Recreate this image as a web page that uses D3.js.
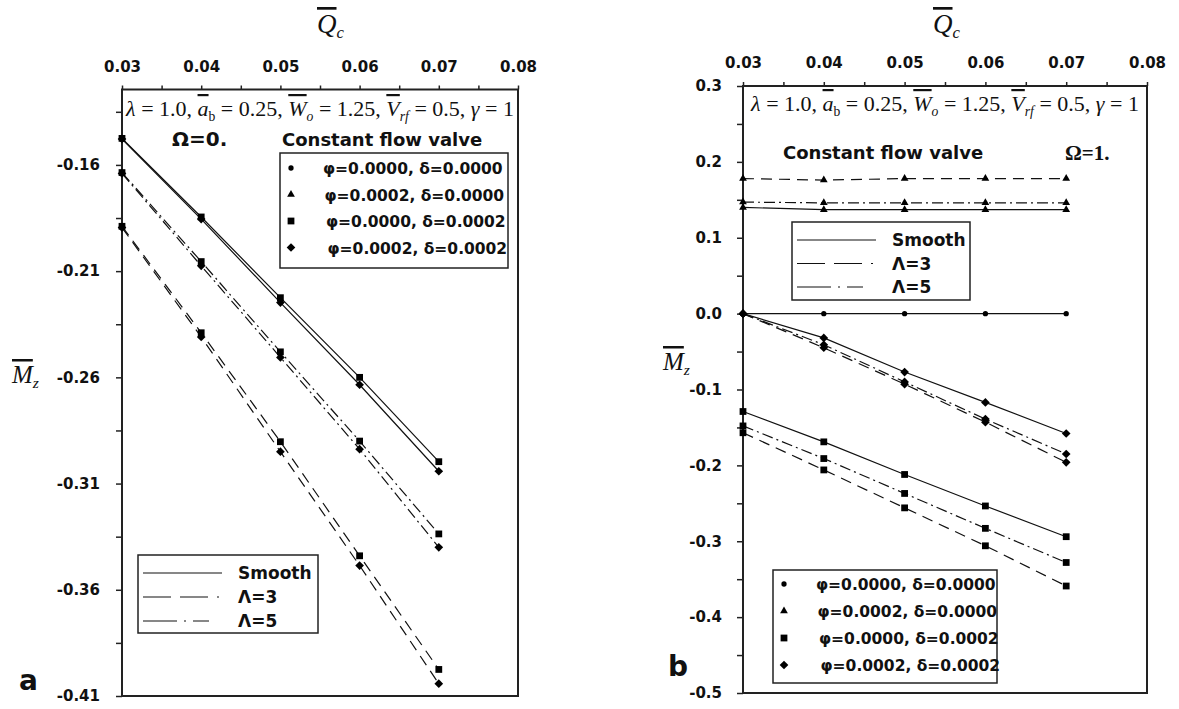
<!DOCTYPE html>
<html>
<head>
<meta charset="utf-8">
<title>Mz versus Qc - constant flow valve</title>
<style>
  body { margin: 0; background: #fff; }
  svg { display: block; }
  .tick text { font-family: "DejaVu Sans", sans-serif; font-weight: bold; font-size: 15px; fill: #111; }
  .tick line { stroke: #222; stroke-width: 1.5; }
  .domain { stroke: #222; stroke-width: 2; }
  .lbl { font-family: "DejaVu Sans", sans-serif; font-weight: bold; fill: #111; }
  .serif { font-family: "Liberation Serif", serif; fill: #111; }
</style>
</head>
<body>
<div id="chart"></div>
<script src="https://d3js.org/d3.v7.min.js"></script>
<script>
(function(d3) {
  'use strict';

  // shared x values
  var qc = [0.03, 0.04, 0.05, 0.06, 0.07];
  var xTicks = [0.03, 0.04, 0.05, 0.06, 0.07, 0.08];
  var xMinor = [0.035, 0.045, 0.055, 0.065, 0.075];

  // panel a : Omega = 0
  var yTicksA = [-0.16, -0.21, -0.26, -0.31, -0.36, -0.41];
  var yMinorA = [-0.135, -0.185, -0.235, -0.285, -0.335, -0.385];
  var smoothSqA = [-0.1475, -0.1845, -0.2225, -0.2600, -0.2997];
  var smoothDiA = [-0.1478, -0.1855, -0.2248, -0.2635, -0.3042];
  var lam5SqA   = [-0.1636, -0.2055, -0.2480, -0.2900, -0.3337];
  var lam5DiA   = [-0.1640, -0.2075, -0.2506, -0.2938, -0.3400];
  var lam3SqA   = [-0.1889, -0.2390, -0.2903, -0.3440, -0.3975];
  var lam3DiA   = [-0.1895, -0.2410, -0.2950, -0.3486, -0.4042];

  // panel b : Omega = 1
  var yTicksB = [0.3, 0.2, 0.1, 0.0, -0.1, -0.2, -0.3, -0.4, -0.5];
  var yMinorB = [0.25, 0.15, 0.05, -0.05, -0.15, -0.25, -0.35, -0.45];
  var smoothCiB = [0, 0, 0, 0, 0];
  var smoothTrB = [0.140, 0.137, 0.137, 0.137, 0.137];
  var lam5TrB   = [0.147, 0.146, 0.146, 0.146, 0.146];
  var lam3TrB   = [0.178, 0.176, 0.178, 0.178, 0.178];
  var smoothDiB = [0.000, -0.032, -0.077, -0.117, -0.158];
  var lam5DiB   = [0.000, -0.041, -0.090, -0.139, -0.185];
  var lam3DiB   = [0.000, -0.045, -0.093, -0.143, -0.196];
  var smoothSqB = [-0.129, -0.169, -0.212, -0.2535, -0.294];
  var lam5SqB   = [-0.148, -0.191, -0.237, -0.283, -0.328];
  var lam3SqB   = [-0.157, -0.206, -0.256, -0.306, -0.359];

  var markerLabels = ['\u03c6=0.0000, \u03b4=0.0000', '\u03c6=0.0002, \u03b4=0.0000',
                      '\u03c6=0.0000, \u03b4=0.0002', '\u03c6=0.0002, \u03b4=0.0002'];
  var markerKinds = ['circle', 'triangle', 'square', 'diamond'];
  var styleLabels = ['Smooth', '\u039b=3', '\u039b=5'];
  var styleKinds = ['smooth', 'lam3', 'lam5'];

  var dash = { smooth: null, lam3: '11,7', lam5: '11,4,2,4' };
  var legendDash = { smooth: null, lam3: '28,9,28,9,2', lam5: '34,7,2,7,16' };
  var symbols = {
    circle: d3.symbol().type(d3.symbolCircle).size(22),
    triangle: d3.symbol().type(d3.symbolTriangle).size(26),
    square: d3.symbol().type(d3.symbolSquare).size(46),
    diamond: d3.symbol().type(d3.symbolDiamond2).size(48)
  };

  var svg = d3.select('#chart').append('svg')
    .attr('width', 1179)
    .attr('height', 709);

  function overText(g, x, y, parts, size, anchor) {
    var t = g.append('text').attr('class', 'serif')
      .attr('x', x).attr('y', y)
      .attr('font-size', size)
      .attr('text-anchor', anchor || 'start');
    var shift = 0;
    parts.forEach(function(p) {
      var s = t.append('tspan').text(p.t);
      var want = p.sub ? 5 : 0;
      if (want !== shift) { s.attr('dy', want - shift); shift = want; }
      if (p.sub) s.attr('font-size', size * 0.62);
      if (p.it) s.attr('font-style', 'italic');
      if (p.over) s.style('text-decoration', 'overline');
    });
    return t;
  }

  var paramParts = [
    { t: '\u03bb', it: 1 }, { t: ' = 1.0, ' },
    { t: 'a', it: 1, over: 1 }, { t: 'b', sub: 1 }, { t: ' = 0.25, ' },
    { t: 'W', it: 1, over: 1 }, { t: 'o', sub: 1, it: 1 }, { t: ' = 1.25, ' },
    { t: 'V', it: 1, over: 1 }, { t: 'rf', sub: 1, it: 1 }, { t: ' = 0.5, ' },
    { t: '\u03b3', it: 1 }, { t: ' = 1' }
  ];

  function panel(p) {
    var g = svg.append('g');
    var x = d3.scaleLinear().domain([0.03, 0.08]).range([p.left, p.right]);
    var y = d3.scaleLinear().domain(p.yDomain).range([p.bottom, p.top]);

    // parameter line (drawn first so the frame stays on top)
    overText(g, (p.left + p.right) / 2, p.paramY, paramParts, 22, 'middle');

    // frame
    g.append('rect')
      .attr('x', p.left).attr('y', p.top)
      .attr('width', p.right - p.left).attr('height', p.bottom - p.top)
      .attr('fill', 'none').attr('stroke', '#222').attr('stroke-width', 2);

    g.append('g').attr('transform', 'translate(0,' + p.top + ')')
      .call(d3.axisTop(x).tickValues(xTicks).tickSize(4).tickSizeOuter(0).tickPadding(14)
        .tickFormat(function(d) { return d.toFixed(2); }));
    g.append('g').attr('transform', 'translate(0,' + p.top + ')')
      .call(d3.axisTop(x).tickValues(xMinor).tickSize(4).tickSizeOuter(0).tickFormat(''));
    g.append('g').attr('transform', 'translate(' + p.left + ',0)')
      .call(d3.axisLeft(y).tickValues(p.yTicks).tickSize(6).tickSizeOuter(0).tickPadding(p.yPad)
        .tickFormat(function(d) { return d.toFixed(p.dec); }));
    g.append('g').attr('transform', 'translate(' + p.left + ',0)')
      .call(d3.axisLeft(y).tickValues(p.yMinor).tickSize(6).tickSizeOuter(0).tickFormat(''));
    g.selectAll('.domain').remove();

    var line = d3.line().x(function(d, i) { return x(qc[i]); }).y(function(d) { return y(d); });

    p.series.forEach(function(s) {
      g.append('path').attr('d', line(s.values))
        .attr('fill', 'none').attr('stroke', '#111').attr('stroke-width', 1.2)
        .attr('stroke-dasharray', dash[s.style]);
    });
    p.series.forEach(function(s) {
      g.selectAll(null).data(s.values).enter().append('path')
        .attr('d', symbols[s.marker])
        .attr('transform', function(d, i) { return 'translate(' + x(qc[i]) + ',' + y(d) + ')'; })
        .attr('fill', '#000');
    });

    // axis titles
    overText(g, p.qx, 33, [{ t: 'Q', it: 1, over: 1 }, { t: 'c', sub: 1, it: 1 }], 27);
    overText(g, p.mx, p.my, [{ t: 'M', it: 1, over: 1 }, { t: 'z', sub: 1, it: 1 }], 25);

    // constant flow valve + omega
    g.append('text').attr('class', 'lbl').attr('font-size', 18)
      .attr('x', p.cfv[0]).attr('y', p.cfv[1]).text('Constant flow valve');
    g.append('text').attr('class', p.omegaSerif ? 'serif' : 'lbl')
      .attr('font-weight', 'bold').attr('font-size', p.omegaSerif ? 21 : 20)
      .attr('x', p.omega[0]).attr('y', p.omega[1]).text(p.omegaText);

    // marker legend
    var ml = p.mLeg;
    g.append('rect').attr('x', ml.x).attr('y', ml.y).attr('width', ml.w).attr('height', ml.h)
      .attr('fill', '#fff').attr('stroke', '#222').attr('stroke-width', 1.5);
    markerKinds.forEach(function(k, i) {
      var cy = ml.y + ml.first + i * ml.step;
      g.append('path').attr('d', symbols[k])
        .attr('transform', 'translate(' + (ml.x + 11) + ',' + cy + ')').attr('fill', '#000');
      g.append('text').attr('class', 'lbl').attr('font-size', 15.5)
        .attr('x', ml.x + 43 + i * 1.5).attr('y', cy + 6).text(markerLabels[i]);
    });

    // line style legend
    var ll = p.lLeg;
    g.append('rect').attr('x', ll.x).attr('y', ll.y).attr('width', ll.w).attr('height', ll.h)
      .attr('fill', '#fff').attr('stroke', '#222').attr('stroke-width', 1.5);
    styleKinds.forEach(function(k, i) {
      var cy = ll.y + ll.first + i * ll.step;
      g.append('line').attr('x1', ll.x + 5).attr('x2', ll.x + 84).attr('y1', cy).attr('y2', cy)
        .attr('stroke', '#111').attr('stroke-width', 1.2).attr('stroke-dasharray', legendDash[k]);
      g.append('text').attr('class', 'lbl').attr('font-size', 17)
        .attr('x', ll.x + 100).attr('y', cy + 6).text(styleLabels[i]);
    });

    g.append('text').attr('class', 'lbl').attr('font-size', 28)
      .attr('x', p.tag[0]).attr('y', p.tag[1]).text(p.tagText);
  }

  panel({
    left: 122, right: 518, top: 89.5, bottom: 696,
    yDomain: [-0.41, -0.1245], yTicks: yTicksA, yMinor: yMinorA, dec: 2, yPad: 16,
    series: [
      { values: smoothSqA, style: 'smooth', marker: 'square' },
      { values: smoothDiA, style: 'smooth', marker: 'diamond' },
      { values: lam5SqA, style: 'lam5', marker: 'square' },
      { values: lam5DiA, style: 'lam5', marker: 'diamond' },
      { values: lam3SqA, style: 'lam3', marker: 'square' },
      { values: lam3DiA, style: 'lam3', marker: 'diamond' }
    ],
    qx: 317, mx: 12, my: 383, paramY: 116,
    cfv: [282, 146], omega: [172, 146], omegaText: '\u03a9=0.',
    mLeg: { x: 280, y: 153, w: 228, h: 115, first: 15, step: 26.5 },
    lLeg: { x: 138, y: 555, w: 180, h: 78, first: 18, step: 24 },
    tag: [19, 690], tagText: 'a'
  });

  panel({
    left: 743, right: 1147, top: 86, bottom: 693,
    yDomain: [-0.5, 0.3], yTicks: yTicksB, yMinor: yMinorB, dec: 1, yPad: 15,
    series: [
      { values: smoothCiB, style: 'smooth', marker: 'circle' },
      { values: lam3TrB, style: 'lam3', marker: 'triangle' },
      { values: lam5TrB, style: 'lam5', marker: 'triangle' },
      { values: smoothTrB, style: 'smooth', marker: 'triangle' },
      { values: smoothDiB, style: 'smooth', marker: 'diamond' },
      { values: lam5DiB, style: 'lam5', marker: 'diamond' },
      { values: lam3DiB, style: 'lam3', marker: 'diamond' },
      { values: smoothSqB, style: 'smooth', marker: 'square' },
      { values: lam5SqB, style: 'lam5', marker: 'square' },
      { values: lam3SqB, style: 'lam3', marker: 'square' }
    ],
    qx: 933, mx: 663, my: 370, paramY: 111,
    cfv: [783, 159], omega: [1065, 160], omegaText: '\u03a9=1.', omegaSerif: true,
    mLeg: { x: 773, y: 570, w: 224, h: 113, first: 14, step: 27 },
    lLeg: { x: 792, y: 222, w: 178, h: 78, first: 18, step: 23.5 },
    tag: [668, 676], tagText: 'b'
  });
})(window.d3);
</script>
</body>
</html>
